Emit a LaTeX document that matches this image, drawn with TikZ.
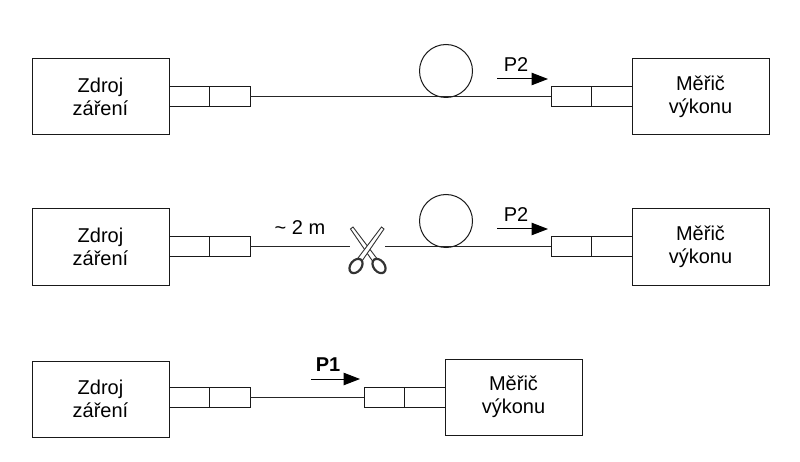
\documentclass[tikz,border=0pt]{standalone}
\usepackage{fontspec}
\setmainfont{Liberation Sans}
\usetikzlibrary{arrows.meta,positioning,calc}

\begin{document}
\begin{tikzpicture}[x=1pt,y=1pt,>={Triangle[length=16.5pt,width=12.5pt]},line width=1pt,
    device/.style={draw=black!90,minimum width=137pt,minimum height=76pt,align=center,font=\fontsize{20}{23}\selectfont,inner sep=0pt,outer sep=0pt},
    plug/.style={draw=black!90,minimum width=40.5pt,minimum height=20pt,inner sep=0pt,outer sep=0pt},
    fibre/.style={draw=black!85},
    coil/.style={circle,draw=black!90,minimum size=53pt,inner sep=0pt,outer sep=0pt},
    power/.style={font=\fontsize{20}{23}\selectfont,inner sep=0pt},
    flow/.style={->,draw=black},
    blade/.style={draw=black!80,fill=white,line width=.9pt},
    grip/.style={draw=black!80,fill=white,line width=2.2pt}]
    \useasboundingbox (0,0) rectangle (800,-462);
    % Row with the full fibre
    \node[device] (src1) at (100.5,-97) {Zdroj\\záření};
    \node[plug,right=0pt of src1] (a1) {};
    \node[plug,right=0pt of a1] (b1) {};
    \node[device] (met1) at (700.5,-97) {Měřič\\výkonu};
    \node[plug,left=0pt of met1] (d1) {};
    \node[plug,left=0pt of d1] (c1) {};
    \draw[fibre] (b1) -- (c1);
    \node[coil] (coil1) at (446,-71) {};
    \node[power] (p1) at (516,-65) {P2};
    \coordinate (p1s) at (497,-79);
    \coordinate (p1e) at (548,-79);
    \draw[flow] (p1s) -- (p1e);
    % Row with the cut fibre
    \node[device] (src2) at (100.5,-247) {Zdroj\\záření};
    \node[plug,right=0pt of src2] (a2) {};
    \node[plug,right=0pt of a2] (b2) {};
    \node[device] (met2) at (700.5,-247) {Měřič\\výkonu};
    \node[plug,left=0pt of met2] (d2) {};
    \node[plug,left=0pt of d2] (c2) {};
    \node[minimum width=35pt,minimum height=8pt,inner sep=0pt,outer sep=0pt] (cut) at (367.5,-247) {};
    \draw[fibre] (b2) -- (cut);
    \draw[fibre] (cut) -- (c2);
    \node[power] (len) at (300,-228) {\textasciitilde{} 2 m};
    \node[coil] (coil2) at (446,-221) {};
    \node[power] (p2) at (516,-215) {P2};
    \coordinate (p2s) at (497,-229);
    \coordinate (p2e) at (548,-229);
    \draw[flow] (p2s) -- (p2e);
    % Scissors
    \draw[blade] (350.5,-229) -- (353,-227) -- (376.5,-258) -- (372.5,-261) -- cycle;
    \draw[blade] (384,-229) -- (381.5,-227) -- (358,-258) -- (362,-261) -- cycle;
    \draw[grip,rotate around={-52:(379,-266)}] (379,-266) ellipse (8pt and 5.5pt);
    \draw[grip,rotate around={52:(356,-266)}] (356,-266) ellipse (8pt and 5.5pt);
    % Row without the fibre piece
    \node[device] (src3) at (100.5,-399) {Zdroj\\záření};
    \node[plug,right=0pt of src3,yshift=2pt] (a3) {};
    \node[plug,right=0pt of a3] (b3) {};
    \node[device] (met3) at (513.5,-397) {Měřič\\výkonu};
    \node[plug,left=0pt of met3] (d3) {};
    \node[plug,left=0pt of d3] (c3) {};
    \draw[fibre] (b3) -- (c3);
    \node[power,font=\fontsize{20}{23}\selectfont\bfseries] (p3) at (328,-365) {P1};
    \coordinate (p3s) at (311,-379);
    \coordinate (p3e) at (360,-379);
    \draw[flow] (p3s) -- (p3e);
\end{tikzpicture}
\end{document}
